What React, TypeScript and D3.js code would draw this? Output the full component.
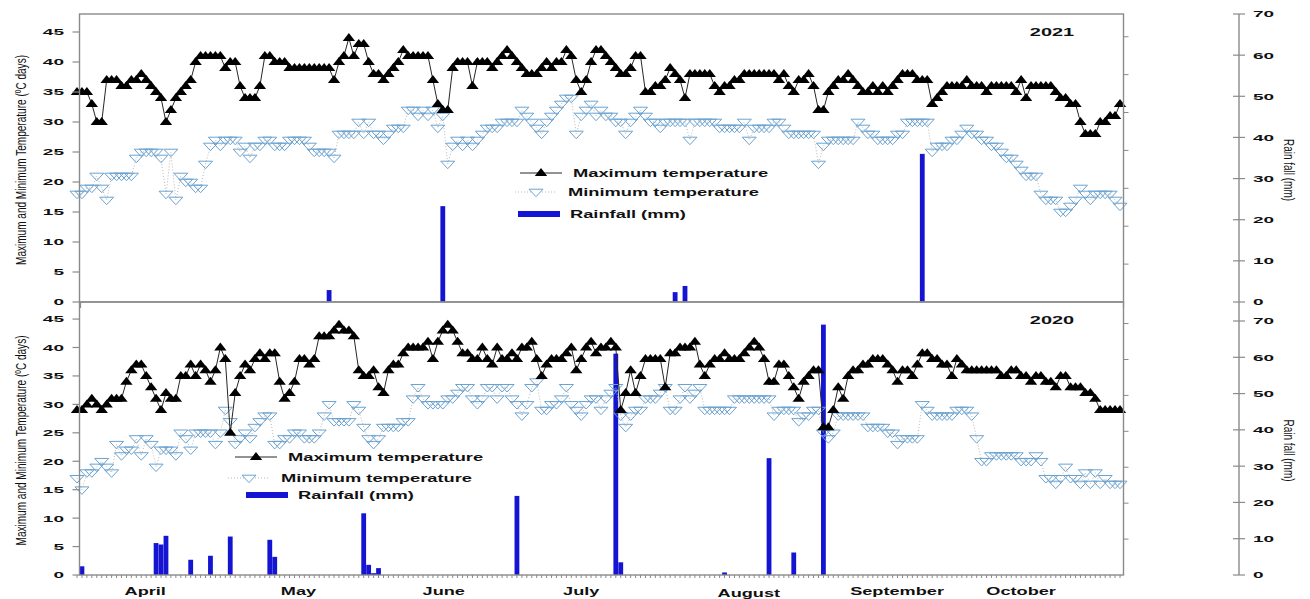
import * as d3 from "d3";

// daily series, day 0 = first day of record (late March) .. day 211 (end of October)
const dayCount = 212;

const maxT2021 = [
  35, 35, 35, 33, 30, 30, 37, 37, 37, 36, 36, 37, 37, 38, 37, 36, 35, 34, 30, 32,
  34, 35, 36, 37, 40, 41, 41, 41, 41, 41, 39, 40, 40, 36, 34, 34, 34, 36, 41, 41,
  40, 40, 40, 39, 39, 39, 39, 39, 39, 39, 39, 39, 37, 40, 41, 44, 41, 43, 43, 40,
  38, 38, 37, 38, 39, 40, 42, 41, 41, 41, 41, 41, 37, 33, 32, 32, 39, 40, 40, 40,
  36, 40, 40, 40, 39, 40, 41, 42, 41, 40, 39, 38, 38, 38, 39, 40, 39, 40, 40, 42,
  41, 37, 35, 37, 40, 42, 42, 41, 40, 39, 38, 38, 39, 41, 41, 35, 35, 36, 36, 37,
  39, 38, 37, 34, 38, 38, 38, 38, 38, 36, 35, 36, 36, 37, 37, 38, 38, 38, 38, 38,
  38, 38, 37, 38, 36, 35, 37, 37, 38, 36, 32, 32, 35, 36, 37, 37, 38, 37, 36, 35,
  35, 36, 35, 36, 35, 36, 37, 38, 38, 38, 37, 37, 37, 33, 34, 35, 36, 36, 36, 36,
  37, 36, 36, 36, 35, 36, 36, 36, 36, 36, 35, 37, 34, 36, 36, 36, 36, 36, 35, 34,
  34, 33, 33, 30, 28, 28, 28, 30, 30, 31, 31, 33,
];

const minT2021 = [
  18, 18, 19, 19, 21, 19, 17, 21, 21, 21, 21, 21, 24, 25, 25, 25, 25, 24, 18, 25,
  17, 21, 20, 20, 19, 19, 23, 26, 27, 26, 27, 27, 27, 25, 26, 24, 26, 26, 27, 27,
  26, 26, 26, 27, 27, 27, 27, 26, 25, 25, 25, 25, 24, 28, 28, 28, 28, 30, 28, 30,
  28, 28, 27, 28, 29, 29, 29, 32, 32, 31, 32, 31, 32, 29, 31, 23, 26, 27, 26, 27,
  26, 27, 28, 29, 29, 29, 30, 30, 30, 30, 32, 31, 30, 29, 28, 30, 31, 32, 33, 34,
  34, 28, 31, 32, 33, 31, 32, 31, 31, 30, 30, 28, 30, 31, 32, 31, 30, 30, 29, 30,
  30, 30, 30, 30, 27, 30, 30, 30, 30, 30, 29, 29, 29, 29, 29, 30, 27, 29, 29, 29,
  29, 30, 30, 29, 28, 28, 28, 28, 28, 28, 23, 26, 27, 27, 27, 27, 27, 27, 30, 29,
  28, 28, 27, 27, 27, 27, 28, 28, 30, 30, 30, 30, 30, 25, 26, 26, 26, 27, 27, 28,
  29, 28, 28, 27, 27, 26, 26, 25, 24, 24, 23, 22, 21, 21, 21, 18, 17, 17, 17, 15,
  15, 16, 17, 19, 18, 17, 18, 18, 18, 18, 17, 16,
];

const rainDays2021 = [51, 74, 121, 123, 171];
const rain2021 = [2.9, 23.3, 2.4, 3.9, 36];

const maxT2020 = [
  29, 29, 30, 31, 30, 29, 30, 31, 31, 31, 34, 36, 37, 37, 35, 33, 31, 29, 32, 31,
  31, 35, 35, 37, 35, 37, 36, 34, 36, 40, 38, 25, 32, 35, 37, 36, 38, 39, 38, 39,
  39, 34, 31, 32, 34, 38, 38, 37, 38, 42, 42, 42, 43, 44, 43, 43, 42, 36, 35, 35,
  36, 33, 32, 36, 37, 37, 39, 40, 40, 40, 40, 41, 38, 41, 43, 44, 43, 41, 39, 39,
  38, 38, 40, 38, 37, 40, 38, 38, 39, 38, 40, 40, 41, 38, 35, 37, 38, 38, 38, 39,
  40, 36, 38, 40, 41, 39, 40, 40, 41, 40, 29, 32, 36, 32, 35, 38, 38, 38, 38, 33,
  39, 39, 40, 40, 40, 41, 37, 35, 37, 38, 38, 39, 38, 38, 38, 39, 40, 41, 40, 38,
  34, 34, 37, 37, 35, 33, 31, 34, 35, 36, 36, 26, 26, 29, 33, 31, 35, 36, 36, 37,
  37, 38, 38, 38, 37, 36, 34, 36, 36, 35, 37, 39, 39, 38, 38, 37, 37, 35, 38, 37,
  36, 36, 36, 36, 36, 36, 36, 35, 35, 36, 36, 35, 35, 34, 35, 35, 34, 34, 33, 35,
  35, 33, 33, 33, 32, 32, 31, 29, 29, 29, 29, 29,
];

const minT2020 = [
  17, 15, 18, 18, 19, 20, 19, 18, 23, 21, 22, 22, 24, 21, 24, 23, 19, 22, 22, 22,
  21, 25, 24, 22, 25, 25, 25, 25, 23, 25, 29, 27, 23, 24, 25, 24, 26, 27, 28, 28,
  23, 23, 24, 24, 25, 25, 24, 24, 24, 25, 28, 30, 27, 27, 27, 27, 30, 29, 26, 24,
  23, 24, 26, 26, 26, 26, 27, 27, 31, 33, 31, 30, 30, 30, 30, 31, 31, 32, 33, 33,
  31, 30, 31, 33, 33, 31, 33, 33, 31, 30, 28, 30, 33, 34, 29, 29, 30, 30, 31, 33,
  30, 29, 28, 30, 31, 31, 29, 31, 32, 33, 28, 26, 28, 29, 29, 31, 31, 31, 32, 33,
  29, 29, 31, 33, 31, 32, 33, 29, 29, 29, 29, 29, 29, 31, 31, 31, 31, 31, 31, 31,
  31, 28, 29, 29, 29, 29, 27, 28, 28, 29, 29, 25, 24, 25, 28, 28, 28, 28, 28, 28,
  26, 26, 26, 26, 25, 25, 23, 24, 24, 24, 24, 30, 29, 28, 28, 28, 28, 28, 29, 29,
  29, 28, 24, 20, 20, 21, 21, 21, 21, 21, 21, 20, 20, 20, 21, 20, 17, 17, 16, 17,
  19, 17, 17, 16, 18, 16, 18, 16, 17, 16, 16, 16,
];

const rainDays2020 = [1, 16, 17, 18, 23, 27, 31, 39, 40, 58, 59, 60, 61, 89, 109, 110, 131, 140, 145, 151];
const rain2020 = [2.4, 8.8, 8.4, 10.8, 4.2, 5.3, 10.6, 9.7, 5, 17, 2.8, 0.5, 1.9, 21.8, 61, 3.5, 0.7, 32.2, 6.2, 69];

const months = ["April", "May", "June", "July", "August", "September", "October"];
const monthDays = [13.8, 44.8, 74.2, 102, 135.9, 165.9, 191];

const legendLabels = ["Maximum temperature", "Minimum temperature", "Rainfall (mm)"];

const FONT = "'Liberation Sans', Arial, sans-serif";
const BOX = "#8a8a8a";
const RAIN = "#1414d2";
const MIN_C = "#6aa2d0";

const x = d3.scaleLinear().domain([0, dayCount - 1]).range([77, 1120]);
const boxLeft = 79.5;
const boxRight = 1123.5;

const upTri = "M0,-5L6.2,3L-6.2,3Z";
const downTri = "M-7,-2.8L7,-2.8L0,4.7Z";

// stretched bold label (the figure is widened horizontally)
const Wide = ({ x, y, sx, size, anchor = "start", children }: any) => (
  <text
    transform={`translate(${x},${y}) scale(${sx},1)`}
    fontFamily={FONT}
    fontWeight="bold"
    fontSize={size}
    textAnchor={anchor}
    fill="#111"
  >
    {children}
  </text>
);

const Panel = ({ year, maxT, minT, rainDays, rainVals, top, bottom, rainTop, months: showMonths, legend, titleLen }: any) => {
  const y = d3.scaleLinear().domain([0, 48]).range([bottom, top]);
  const yRain = d3.scaleLinear().domain([0, 70]).range([bottom, rainTop]);
  const yEdge = d3.scaleLinear().domain([0, 7.6]).range([bottom, top]);
  const days = d3.range(dayCount);

  const maxLine = d3.line<number>().x((_, i) => x(i)).y((d) => y(d))(maxT) || "";
  const minLine = d3.line<number>().x((_, i) => x(i)).y((d) => y(d))(minT) || "";
  const midY = (top + bottom) / 2;

  return (
    <g>
      {/* rainfall bars */}
      {rainDays.map((d: number, i: number) => (
        <rect
          key={"r" + i}
          x={x(d) - 2.4}
          y={yRain(rainVals[i])}
          width={4.8}
          height={yRain(0) - yRain(rainVals[i])}
          fill={RAIN}
        />
      ))}

      {/* minimum temperature */}
      <path d={minLine} fill="none" stroke="#b9b9b9" strokeWidth={1} strokeDasharray="1,2" />
      {minT.map((v: number, i: number) => (
        <path key={"n" + i} d={downTri} transform={`translate(${x(i)},${y(v)})`} fill="none" stroke={MIN_C} strokeWidth={1} />
      ))}

      {/* maximum temperature */}
      <path d={maxLine} fill="none" stroke="#262626" strokeWidth={1} />
      {maxT.map((v: number, i: number) => (
        <path key={"m" + i} d={upTri} transform={`translate(${x(i)},${y(v)})`} fill="#000" />
      ))}

      {/* frame */}
      <rect x={boxLeft} y={top} width={boxRight - boxLeft} height={bottom - top} fill="none" stroke={BOX} strokeWidth={1.4} />
      {d3.range(1, 8).map((t) => (
        <line key={"e" + t} x1={boxRight} x2={boxRight + 5} y1={yEdge(t)} y2={yEdge(t)} stroke={BOX} strokeWidth={1} />
      ))}

      {/* left axis */}
      {y.ticks(10).filter((t) => t <= 45).map((t) => (
        <g key={"l" + t}>
          <line x1={boxLeft - 7} x2={boxLeft} y1={y(t)} y2={y(t)} stroke={BOX} strokeWidth={1.2} />
          <Wide x={64} y={y(t) + 3.4} sx={2} size={9.5} anchor="end">{t}</Wide>
        </g>
      ))}
      <text
        transform={`translate(26,${midY + 2}) rotate(-90) scale(1,1.45)`}
        fontFamily={FONT}
        fontSize={10}
        textAnchor="middle"
        textLength={titleLen}
        lengthAdjust="spacingAndGlyphs"
        fill="#111"
      >
        Maximum and Minimum Temperature (ºC days)
      </text>

      {/* right rainfall axis */}
      <line x1={1239} x2={1239} y1={top} y2={bottom} stroke={BOX} strokeWidth={1.4} />
      {yRain.ticks(7).map((t) => (
        <g key={"rr" + t}>
          <line x1={1233} x2={1245} y1={yRain(t)} y2={yRain(t)} stroke={BOX} strokeWidth={1.2} />
          <Wide x={1253} y={yRain(t) + 3.4} sx={2} size={9.5}>{t}</Wide>
        </g>
      ))}
      <text
        transform={`translate(1284,${midY + 12}) rotate(90) scale(1,1.45)`}
        fontFamily={FONT}
        fontSize={10}
        textAnchor="middle"
        textLength={62}
        lengthAdjust="spacingAndGlyphs"
        fill="#111"
      >
        Rain fall (mm)
      </text>

      {/* year */}
      <Wide x={1052} y={top + 22} sx={1.9} size={10.5} anchor="middle">{year}</Wide>

      {/* x axis */}
      {showMonths ? (
        <g>
          {days.map((d) => (
            <line key={"d" + d} x1={x(d)} x2={x(d)} y1={bottom} y2={bottom + 3} stroke={BOX} strokeWidth={1} />
          ))}
          {months.map((m, i) => (
            <Wide key={m} x={x(monthDays[i])} y={bottom + (m === "August" ? 22 : 20)} sx={1.65} size={11} anchor="middle">
              {m}
            </Wide>
          ))}
        </g>
      ) : (
        <g>
          <line x1={boxLeft + 1} x2={boxLeft + 1} y1={bottom} y2={bottom + 6} stroke={BOX} strokeWidth={1.2} />
          <line x1={boxRight} x2={boxRight} y1={bottom} y2={bottom + 6} stroke={BOX} strokeWidth={1.2} />
        </g>
      )}

      {/* legend */}
      <g>
        <line x1={legend[0][0]} x2={legend[0][0] + 42} y1={legend[0][1]} y2={legend[0][1]} stroke="#262626" strokeWidth={1} />
        <path d={upTri} transform={`translate(${legend[0][0] + 21},${legend[0][1]})`} fill="#000" />
        <Wide x={legend[0][0] + 53} y={legend[0][1] + 3.6} sx={1.83} size={10}>{legendLabels[0]}</Wide>

        <line x1={legend[1][0]} x2={legend[1][0] + 42} y1={legend[1][1]} y2={legend[1][1]} stroke="#b9b9b9" strokeWidth={1} strokeDasharray="1,2" />
        <path d={downTri} transform={`translate(${legend[1][0] + 21},${legend[1][1]})`} fill="#fff" stroke={MIN_C} strokeWidth={1} />
        <Wide x={legend[1][0] + 53} y={legend[1][1] + 3.6} sx={1.83} size={10}>{legendLabels[1]}</Wide>

        <rect x={legend[2][0]} y={legend[2][1] - 3} width={42} height={6} fill={RAIN} />
        <Wide x={legend[2][0] + 52} y={legend[2][1] + 3.6} sx={1.83} size={10}>{legendLabels[2]}</Wide>
      </g>
    </g>
  );
};

export default function App() {
  return (
    <svg
      width={1310}
      height={599}
      style={{ position: "absolute", left: 0, top: 0, background: "#fff" }}
    >
      <rect width={1310} height={599} fill="#fff" />
      <Panel
        year="2021"
        maxT={maxT2021}
        minT={minT2021}
        rainDays={rainDays2021}
        rainVals={rain2021}
        top={14}
        bottom={302}
        rainTop={14}
        months={false}
        titleLen={210}
        legend={[[520, 173], [515, 192], [518, 214]]}
      />
      <Panel
        year="2020"
        maxT={maxT2020}
        minT={minT2020}
        rainDays={rainDays2020}
        rainVals={rain2020}
        top={302}
        bottom={575}
        rainTop={321}
        months={true}
        titleLen={210}
        legend={[[235, 457], [228, 478], [246, 495]]}
      />
    </svg>
  );
}
